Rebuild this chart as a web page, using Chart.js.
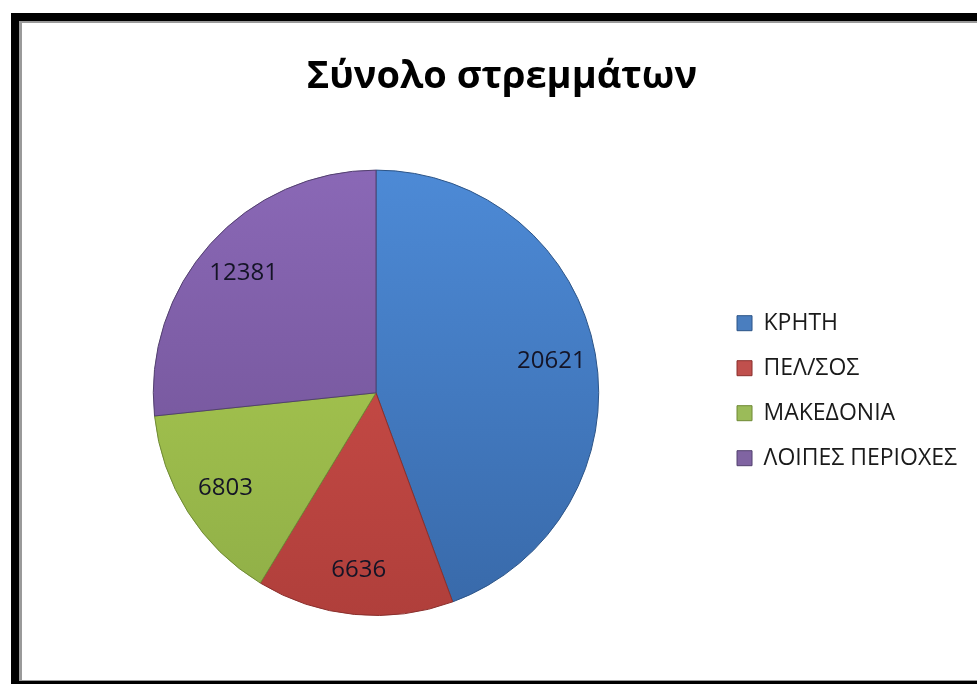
<!DOCTYPE html>
<html>
<head>
<meta charset="utf-8">
<script src="https://cdn.jsdelivr.net/npm/chart.js@4.4.1/dist/chart.umd.min.js"></script>
<style>
  html, body { margin: 0; padding: 0; background: #fff; overflow: hidden; }
  .frame {
    position: absolute; left: 11px; top: 13px; width: 1000px; height: 660px;
    border-left: 8px solid #000; border-top: 8px solid #000; border-bottom: 8px solid #000;
  }
  .frame .inner {
    position: absolute; left: 0; top: 0; right: 0; bottom: 0;
    border-left: 3px solid #9a9a9a; border-top: 2px solid #9a9a9a; border-bottom: 1px solid #9a9a9a;
  }
  #wrap { position: absolute; left: 22px; top: 23px; width: 955px; height: 657px; }
</style>
</head>
<body>
<div class="frame"><div class="inner"></div></div>
<div id="wrap"><canvas id="areaChart"></canvas></div>
<script>
const regions = ['ΚΡΗΤΗ', 'ΠΕΛ/ΣΟΣ', 'ΜΑΚΕΔΟΝΙΑ', 'ΛΟΙΠΕΣ ΠΕΡΙΟΧΕΣ'];
const stremmata = [20621, 6636, 6803, 12381];

const baseColors   = ['#4a7ebf', '#c0504d', '#9bbb59', '#8064a2'];
const lightColors  = ['#4d8ad6', '#d4514c', '#b0d052', '#8a68b6'];
const darkColors   = ['#3869a9', '#b03f3b', '#8fae47', '#6c4f90'];
const edgeColors   = ['#2c5487', '#8a2f2c', '#6f8a35', '#52406e'];

// vertical shading over the whole pie, lighter at the top
function sliceFill(context) {
  const chart = context.chart;
  const area = chart.chartArea;
  const i = context.dataIndex;
  if (!area) return baseColors[i];
  const cy = (area.top + area.bottom) / 2;
  const r = Math.min(area.right - area.left, area.bottom - area.top) / 2;
  const g = chart.ctx.createLinearGradient(0, cy - r, 0, cy + r);
  g.addColorStop(0, lightColors[i]);
  g.addColorStop(1, darkColors[i]);
  return g;
}

// value text inside each slice
const valueLabels = {
  id: 'valueLabels',
  afterDatasetsDraw(chart) {
    const ctx = chart.ctx;
    const meta = chart.getDatasetMeta(0);
    ctx.save();
    ctx.font = '24px "Open Sans"';
    ctx.fillStyle = '#141426';
    ctx.textAlign = 'center';
    ctx.textBaseline = 'middle';
    meta.data.forEach((arc, i) => {
      const p = arc.getProps(['x', 'y', 'startAngle', 'endAngle', 'outerRadius'], true);
      const mid = (p.startAngle + p.endAngle) / 2;
      const r = p.outerRadius * 0.8;
      ctx.fillText(String(stremmata[i]), p.x + Math.cos(mid) * r, p.y + Math.sin(mid) * r);
    });
    ctx.restore();
  }
};

new Chart(document.getElementById('areaChart'), {
  type: 'pie',
  data: {
    labels: regions,
    datasets: [{
      data: stremmata,
      backgroundColor: sliceFill,
      borderColor: edgeColors,
      borderWidth: 1
    }]
  },
  options: {
    responsive: true,
    maintainAspectRatio: false,
    animation: false,
    layout: { padding: { left: 15, right: 10, top: 0, bottom: 64 } },
    plugins: {
      title: {
        display: true,
        text: 'Σύνολο στρεμμάτων',
        color: '#000',
        font: { family: "'Open Sans'", size: 38, weight: 'bold' },
        padding: { top: 31, bottom: 70 }
      },
      legend: {
        position: 'right',
        title: { display: true, text: '', padding: { top: 128, bottom: 0 } },
        labels: {
          boxWidth: 15,
          boxHeight: 15,
          padding: 22,
          color: '#1a1a1a',
          font: { family: "'Open Sans'", size: 23 },
          generateLabels(chart) {
            const base = Chart.overrides.pie.plugins.legend.labels.generateLabels(chart);
            return base.map((item, i) => ({ ...item, fillStyle: baseColors[i], strokeStyle: edgeColors[i], lineWidth: 1 }));
          }
        }
      },
      tooltip: { enabled: false }
    }
  },
  plugins: [valueLabels]
});
</script>
</body>
</html>
